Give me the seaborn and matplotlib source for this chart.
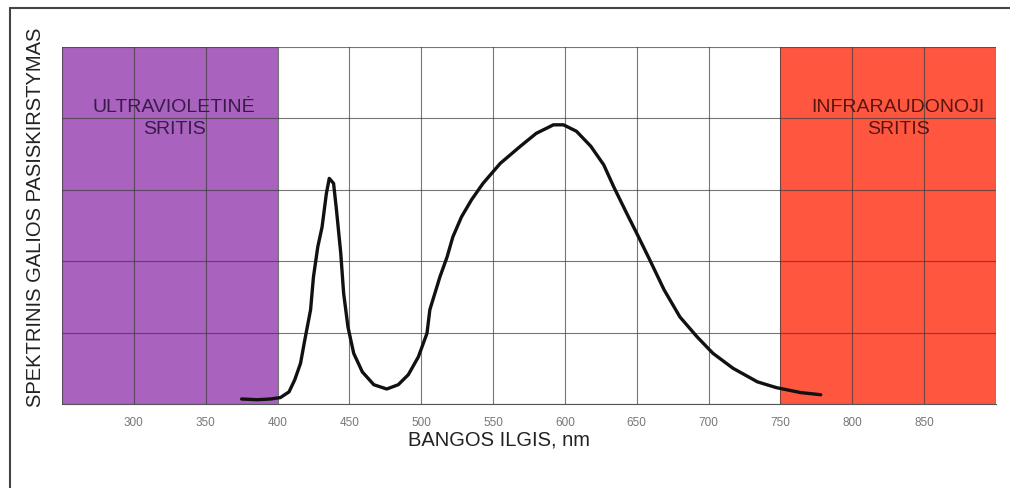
import matplotlib
matplotlib.use("Agg")
import matplotlib.pyplot as plt
import seaborn as sns
import pandas as pd
from matplotlib.lines import Line2D

# spectrum (wavelength nm, relative power)
wavelength = [375, 386, 395, 402, 408, 412, 416, 419, 423, 425, 428, 431, 434, 436,
              439, 441, 444, 446, 449, 453, 459, 467, 476, 484, 491, 498, 504, 506,
              513, 518, 522, 528, 535, 543, 555, 569, 580, 592, 599, 608, 618, 627,
              634, 643, 650, 659, 669, 680, 692, 703, 717, 734, 747, 764, 778]
power = [0.07, 0.06, 0.07, 0.09, 0.17, 0.34, 0.57, 0.90, 1.32, 1.78, 2.20, 2.48, 2.95, 3.16,
         3.09, 2.72, 2.11, 1.55, 1.08, 0.71, 0.45, 0.27, 0.21, 0.27, 0.41, 0.66, 0.99, 1.32,
         1.78, 2.06, 2.34, 2.62, 2.86, 3.09, 3.37, 3.61, 3.79, 3.91, 3.91, 3.82, 3.61, 3.35,
         3.04, 2.67, 2.39, 2.02, 1.60, 1.22, 0.94, 0.71, 0.50, 0.31, 0.23, 0.16, 0.13]

uv_range = (250, 400)
ir_range = (750, 900)
x_ticks = [300, 350, 400, 450, 500, 550, 600, 650, 700, 750, 800, 850]
grid_x = list(range(250, 901, 50))
grid_y = [0, 1, 2, 3, 4, 5]

df = pd.DataFrame({"wavelength": wavelength, "power": power})

sns.set_style("white")
plt.rcParams["font.family"] = ["Liberation Sans", "DejaVu Sans"]

fig = plt.figure(figsize=(10.1, 4.88), dpi=100)
ax = fig.add_axes([62 / 1010, 1 - 404 / 488, 934 / 1010, 357 / 488])

ax.axvspan(*uv_range, color="#a962be", zorder=0, lw=0)
ax.axvspan(*ir_range, color="#ff5640", zorder=0, lw=0)

for gx in grid_x:
    ax.axvline(gx, color="#3c3c3c", lw=0.8, alpha=0.7, zorder=1)
for gy in grid_y:
    ax.axhline(gy, color="#3c3c3c", lw=0.8, alpha=0.7, zorder=1)

sns.lineplot(data=df, x="wavelength", y="power", ax=ax, color="#111111", lw=2.4, zorder=3)

ax.set_xlim(250, 900)
ax.set_ylim(0, 5)
ax.set_xticks(x_ticks)
ax.set_xticklabels([str(t) for t in x_ticks], fontsize=8.5, color="#777777")
ax.set_yticks([])
ax.tick_params(axis="x", length=4, width=0.8, color="#555555", pad=5)
for s in ax.spines.values():
    s.set_visible(False)
ax.spines["bottom"].set_visible(True)
ax.spines["bottom"].set_color("#555555")
ax.spines["bottom"].set_linewidth(0.8)

ax.set_xlabel("")
ax.set_ylabel("")
fig.text(499 / 1010, 1 - 440 / 488, "BANGOS ILGIS, nm", ha="center", va="center",
         fontsize=14.5, color="#222222")
fig.text(36 / 1010, 1 - 217 / 488, "SPEKTRINIS GALIOS PASISKIRSTYMAS", rotation=90,
         ha="center", va="center", fontsize=14.5, color="#222222")

ax.text(328, 4.0, "ULTRAVIOLETINĖ\nSRITIS", ha="center", va="center", fontsize=14,
        color="#3a1a4a", linespacing=1.4)
ax.text(832, 4.0, "INFRARAUDONOJI\nSRITIS", ha="center", va="center", fontsize=14,
        color="#5a1410", linespacing=1.4)

# outer frame of the figure
fig.add_artist(Line2D([10 / 1010, 1], [1 - 8 / 488, 1 - 8 / 488], color="#444444", lw=1.5))
fig.add_artist(Line2D([10 / 1010, 10 / 1010], [0, 1 - 8 / 488], color="#444444", lw=1.5))

fig.savefig("out.png", dpi=100)
